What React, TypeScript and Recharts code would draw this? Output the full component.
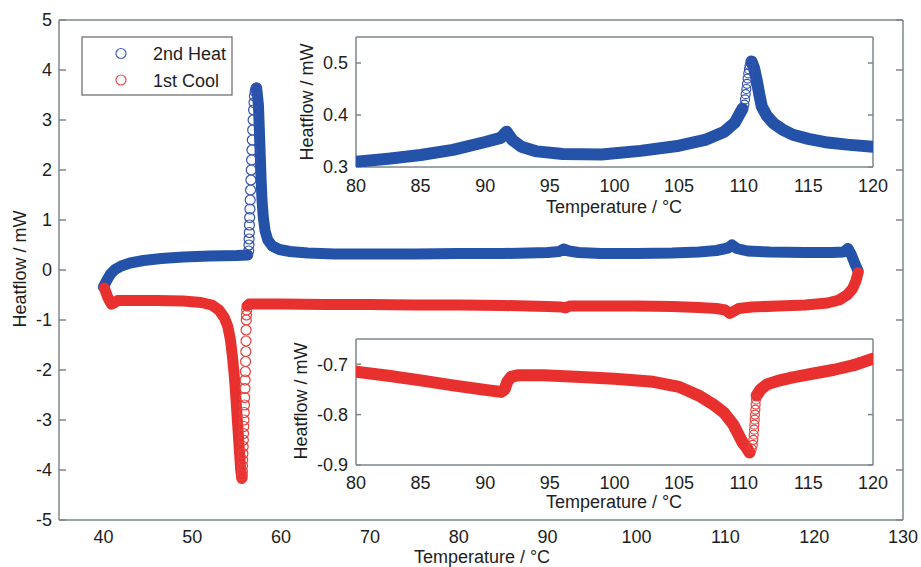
import { ScatterChart, Scatter, XAxis, YAxis } from "recharts";

const FONT = '"Liberation Sans", Arial, Helvetica, sans-serif';
const TEXT = "#1e1e1e";
const AXIS = "#7d878c";
const BLUE = "#2352a8";
const BLUE_RING = "#3553b0";
const RED = "#e8312f";
const RED_RING = "#e8403e";

// ---- tick values ----
const mainXTicks = [40, 50, 60, 70, 80, 90, 100, 110, 120, 130];
const mainYTicks = [-5, -4, -3, -2, -1, 0, 1, 2, 3, 4, 5];
const insetXTicks = [80, 85, 90, 95, 100, 105, 110, 115, 120];
const heatInsetYTicks = [0.3, 0.4, 0.5];
const coolInsetYTicks = [-0.9, -0.8, -0.7];

// ---- main chart: 2nd heat [temperature, heatflow] ----
const heatMainBase = [
  [40.0, -0.34], [40.4, -0.2], [40.8, -0.08], [41.3, 0.01], [42.0, 0.08], [43.0, 0.14],
  [44.5, 0.19], [46.5, 0.23], [49.0, 0.26], [52.0, 0.28], [55.0, 0.29], [56.25, 0.3],
];
const heatMainRise = [
  [56.35, 0.38], [56.38, 0.5], [56.4, 0.62], [56.42, 0.75], [56.44, 0.9], [56.46, 1.05],
  [56.49, 1.22], [56.52, 1.4], [56.56, 1.6], [56.6, 1.8], [56.64, 2.0], [56.68, 2.2],
  [56.72, 2.4], [56.76, 2.6], [56.8, 2.8], [56.85, 3.0], [56.9, 3.2], [56.95, 3.35],
  [57.0, 3.48], [57.08, 3.57], [57.15, 3.62], [57.22, 3.64],
];
const heatMainFall = [
  [57.25, 3.64], [57.45, 3.3], [57.55, 2.8], [57.65, 2.3], [57.75, 1.8], [57.85, 1.4],
  [58.0, 1.05], [58.2, 0.78], [58.5, 0.6], [59.0, 0.48], [59.8, 0.41], [61.0, 0.37],
  [63.0, 0.34], [66.0, 0.32], [70.0, 0.32], [75.0, 0.32], [80.0, 0.33], [85.0, 0.33],
  [90.0, 0.35], [91.3, 0.37], [91.8, 0.42], [92.4, 0.38], [93.5, 0.35], [96.0, 0.33],
  [100.0, 0.33], [104.0, 0.34], [107.0, 0.36], [109.0, 0.39], [110.3, 0.44], [110.75, 0.5],
  [111.3, 0.43], [112.5, 0.38], [115.0, 0.36], [119.0, 0.35], [122.0, 0.35], [123.3, 0.36],
  [123.8, 0.43], [124.2, 0.3], [124.6, 0.12], [124.95, -0.02],
];

// ---- main chart: 1st cool ----
const coolMainHigh = [
  [124.95, -0.05], [124.7, -0.22], [124.3, -0.38], [123.7, -0.5], [122.8, -0.6], [121.5, -0.66],
  [119.0, -0.7], [116.0, -0.72], [113.0, -0.74], [111.5, -0.77], [110.8, -0.84], [110.5, -0.87],
  [110.0, -0.8], [109.0, -0.77], [107.0, -0.75], [104.0, -0.73], [100.0, -0.72], [96.0, -0.72],
  [92.5, -0.72], [92.0, -0.76], [91.5, -0.74], [90.0, -0.73], [85.0, -0.71], [80.0, -0.7],
  [75.0, -0.7], [70.0, -0.69], [65.0, -0.69], [60.0, -0.68], [57.5, -0.68], [56.4, -0.68],
  [56.15, -0.72],
];
const coolMainDrop = [
  [56.12, -0.8], [56.1, -0.9], [56.08, -1.0], [56.06, -1.2], [56.05, -1.42], [56.03, -1.63],
  [56.0, -1.83], [55.98, -2.03], [55.95, -2.2], [55.93, -2.37], [55.9, -2.55], [55.88, -2.7],
  [55.85, -2.85], [55.82, -3.0], [55.8, -3.13], [55.77, -3.27], [55.75, -3.4], [55.73, -3.53],
  [55.7, -3.67], [55.68, -3.8], [55.66, -3.92], [55.64, -4.03], [55.62, -4.1], [55.6, -4.15],
];
const coolMainLow = [
  [55.58, -4.17], [55.45, -4.0], [55.3, -3.6], [55.15, -3.2], [55.0, -2.8], [54.85, -2.4],
  [54.7, -2.05], [54.5, -1.7], [54.3, -1.4], [54.0, -1.13], [53.6, -0.95], [53.0, -0.8],
  [52.2, -0.7], [51.0, -0.65], [49.0, -0.62], [46.0, -0.61], [43.0, -0.61], [41.6, -0.61],
  [41.2, -0.66], [40.9, -0.68], [40.5, -0.55], [40.1, -0.36],
];

// ---- top inset: 2nd heat, 80-120 °C ----
const heatInsetLow = [
  [80, 0.31], [82.5, 0.316], [85, 0.323], [87.5, 0.333], [90, 0.348], [91.2, 0.356],
  [91.65, 0.368], [92.1, 0.352], [92.8, 0.339], [94, 0.33], [96, 0.325], [99, 0.324],
  [102, 0.331], [105, 0.341], [107, 0.352], [108.5, 0.368], [109.3, 0.385], [109.9, 0.412],
];
const heatInsetRise = [
  [110.05, 0.42], [110.1, 0.43], [110.15, 0.44], [110.2, 0.45], [110.25, 0.46], [110.3, 0.47],
  [110.35, 0.48], [110.4, 0.488], [110.45, 0.495], [110.55, 0.5],
];
const heatInsetHigh = [
  [110.6, 0.503], [110.8, 0.49], [111.0, 0.467], [111.2, 0.44], [111.4, 0.416], [111.8, 0.398],
  [112.3, 0.384], [113, 0.372], [113.8, 0.362], [115, 0.354], [116.5, 0.347], [118, 0.343],
  [120, 0.339],
];

// ---- bottom inset: 1st cool, 80-120 °C ----
const coolInsetHigh = [
  [120, -0.689], [118.5, -0.702], [117, -0.711], [115.5, -0.718], [113.8, -0.726],
  [112.8, -0.732], [111.8, -0.74], [111.3, -0.75], [111.0, -0.762],
];
const coolInsetDrop = [
  [110.95, -0.77], [110.92, -0.78], [110.9, -0.79], [110.87, -0.8], [110.85, -0.81],
  [110.82, -0.82], [110.8, -0.83], [110.77, -0.84], [110.74, -0.85], [110.7, -0.86],
  [110.62, -0.868],
];
const coolInsetLow = [
  [110.45, -0.875], [110.2, -0.865], [109.9, -0.855], [109.5, -0.835], [109.2, -0.82],
  [108.5, -0.797], [107.6, -0.779], [106.5, -0.762], [105, -0.745], [103, -0.735],
  [100, -0.729], [97, -0.725], [94.5, -0.722], [92.5, -0.722], [92.0, -0.725], [91.7, -0.735],
  [91.5, -0.75], [91.2, -0.755], [90, -0.751], [87.5, -0.742], [85, -0.732], [82.5, -0.723],
  [80, -0.715],
];

const pts = (rows: number[][]) => rows.map(([x, y]) => ({ x, y }));

const hidden = () => <g />;
const ring = (color: string, r: number) => (p: any) =>
  <circle cx={p.cx} cy={p.cy} r={r} fill="none" stroke={color} strokeWidth={1.2} />;
const band = (color: string, w: number) => ({
  stroke: color,
  strokeWidth: w,
  strokeLinecap: "round",
  strokeLinejoin: "round",
});

// box with inward ticks on all four sides, labels only left and bottom
function frame(o: {
  xDomain: number[];
  yDomain: number[];
  xTicks: number[];
  yTicks: number[];
  tickLen: number;
  xMargin: number;
  yMargin: number;
  yWidth: number;
  xHeight: number;
}) {
  const tickStyle = { fontSize: 18, fill: TEXT, fontFamily: FONT };
  const line = { stroke: AXIS, strokeWidth: 1.5 };
  const common = { type: "number" as const, allowDataOverflow: true, stroke: AXIS };
  return [
    <XAxis key="xb" {...common} xAxisId={0} dataKey="x" domain={o.xDomain} ticks={o.xTicks}
      interval={0} height={o.xHeight} axisLine={line} tickLine={false} tickSize={0}
      tickMargin={o.xMargin} tick={tickStyle} />,
    <XAxis key="xbm" {...common} xAxisId="bm" orientation="bottom" mirror domain={o.xDomain}
      ticks={o.xTicks} interval={0} axisLine={false} tickLine={line} tickSize={o.tickLen} tick={hidden} />,
    <XAxis key="xt" {...common} xAxisId="t" orientation="top" mirror domain={o.xDomain}
      ticks={o.xTicks} interval={0} axisLine={line} tickLine={line} tickSize={o.tickLen} tick={hidden} />,
    <YAxis key="yl" {...common} yAxisId={0} dataKey="y" domain={o.yDomain} ticks={o.yTicks}
      interval={0} width={o.yWidth} axisLine={line} tickLine={false} tickSize={0}
      tickMargin={o.yMargin} tick={tickStyle} />,
    <YAxis key="ylm" {...common} yAxisId="lm" orientation="left" mirror domain={o.yDomain}
      ticks={o.yTicks} interval={0} axisLine={false} tickLine={line} tickSize={o.tickLen} tick={hidden} />,
    <YAxis key="yr" {...common} yAxisId="r" orientation="right" mirror domain={o.yDomain}
      ticks={o.yTicks} interval={0} axisLine={line} tickLine={line} tickSize={o.tickLen} tick={hidden} />,
  ];
}

const txt = { fontFamily: FONT, fontSize: 18, fill: TEXT };

export default function App() {
  return (
    <div style={{ position: "absolute", left: 0, top: 0, width: 921, height: 567, background: "#fff" }}>
      {/* main chart */}
      <div style={{ position: "absolute", left: 0, top: 0 }}>
        <ScatterChart width={921} height={567} margin={{ top: 20, right: 18, bottom: 0, left: 0 }}>
          {frame({
            xDomain: [35, 130], yDomain: [-5, 5], xTicks: mainXTicks, yTicks: mainYTicks,
            tickLen: 7, xMargin: 10, yMargin: 7, yWidth: 59, xHeight: 47,
          })}
          <Scatter data={pts(heatMainBase)} shape={hidden} line={band(BLUE, 11)} isAnimationActive={false} />
          <Scatter data={pts(heatMainFall)} shape={hidden} line={band(BLUE, 11)} isAnimationActive={false} />
          <Scatter data={pts(heatMainRise)} shape={ring(BLUE_RING, 5)} isAnimationActive={false} />
          <Scatter data={pts(coolMainHigh)} shape={hidden} line={band(RED, 11)} isAnimationActive={false} />
          <Scatter data={pts(coolMainLow)} shape={hidden} line={band(RED, 11)} isAnimationActive={false} />
          <Scatter data={pts(coolMainDrop)} shape={ring(RED_RING, 5)} isAnimationActive={false} />
        </ScatterChart>
      </div>

      {/* top inset */}
      <div style={{ position: "absolute", left: 280, top: 30 }}>
        <ScatterChart width={630} height={167} margin={{ top: 7, right: 37, bottom: 0, left: 0 }}>
          {frame({
            xDomain: [80, 120], yDomain: [0.3, 0.55], xTicks: insetXTicks, yTicks: heatInsetYTicks,
            tickLen: 5, xMargin: 12, yMargin: 8, yWidth: 76, xHeight: 30,
          })}
          <Scatter data={pts(heatInsetLow)} shape={hidden} line={band(BLUE, 12)} isAnimationActive={false} />
          <Scatter data={pts(heatInsetHigh)} shape={hidden} line={band(BLUE, 12)} isAnimationActive={false} />
          <Scatter data={pts(heatInsetRise)} shape={ring(BLUE_RING, 4.5)} isAnimationActive={false} />
        </ScatterChart>
      </div>

      {/* bottom inset */}
      <div style={{ position: "absolute", left: 280, top: 332 }}>
        <ScatterChart width={630} height={163} margin={{ top: 7, right: 37, bottom: 0, left: 0 }}>
          {frame({
            xDomain: [80, 120], yDomain: [-0.9, -0.65], xTicks: insetXTicks, yTicks: coolInsetYTicks,
            tickLen: 5, xMargin: 11, yMargin: 8, yWidth: 76, xHeight: 30,
          })}
          <Scatter data={pts(coolInsetHigh)} shape={hidden} line={band(RED, 12)} isAnimationActive={false} />
          <Scatter data={pts(coolInsetLow)} shape={hidden} line={band(RED, 12)} isAnimationActive={false} />
          <Scatter data={pts(coolInsetDrop)} shape={ring(RED_RING, 4.5)} isAnimationActive={false} />
        </ScatterChart>
      </div>

      {/* titles and legend */}
      <svg width={921} height={567} style={{ position: "absolute", left: 0, top: 0, pointerEvents: "none" }}>
        <text {...txt} x={26} y={269} textAnchor="middle" transform="rotate(-90 26 269)">Heatflow / mW</text>
        <text {...txt} x={482} y={563} textAnchor="middle">Temperature / °C</text>
        <text {...txt} x={313} y={102} textAnchor="middle" transform="rotate(-90 313 102)">Heatflow / mW</text>
        <text {...txt} x={614} y={213} textAnchor="middle">Temperature / °C</text>
        <text {...txt} x={307} y={401} textAnchor="middle" transform="rotate(-90 307 401)">Heatflow / mW</text>
        <text {...txt} x={614} y={508} textAnchor="middle">Temperature / °C</text>

        <rect x={82} y={37} width={150} height={58} fill="#fff" stroke="#666" strokeWidth={1.2} />
        <circle cx={121} cy={53.5} r={5} fill="none" stroke="#4a5ec8" strokeWidth={1.2} />
        <text {...txt} x={153} y={60}>2nd Heat</text>
        <circle cx={121} cy={80} r={5} fill="none" stroke="#f05050" strokeWidth={1.2} />
        <text {...txt} x={153} y={87}>1st Cool</text>
      </svg>
    </div>
  );
}
